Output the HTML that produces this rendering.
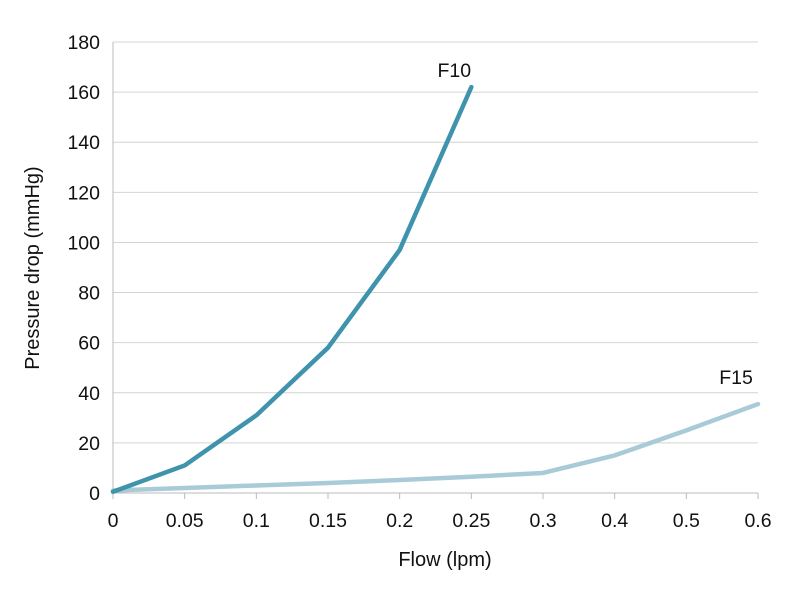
<!DOCTYPE html>
<html><head><meta charset="utf-8"><style>
body{margin:0;background:#fff}
svg{display:block;font-family:"Liberation Sans",sans-serif}
</style></head><body>
<svg id="c" width="800" height="600"></svg>
<script>
const categories=["0","0.05","0.1","0.15","0.2","0.25","0.3","0.4","0.5","0.6"];
const yTicks=[0,20,40,60,80,100,120,140,160,180];
const f10=[0.5,11,31,58,97,162];
const f15=[1,2,3,4,5.2,6.5,8,15,25,35.5];
const svg=document.getElementById('c');
const NS="http://www.w3.org/2000/svg";
const L=113,R=758,T=42,B=493;
const x=i=>L+i*(R-L)/(categories.length-1);
const y=v=>B-v*(B-T)/180;
function mk(t,a,p){const e=document.createElementNS(NS,t);for(const k in a)e.setAttribute(k,a[k]);(p||svg).appendChild(e);return e;}
yTicks.forEach(v=>{
  const g=mk('line',{x1:L,x2:R,y1:y(v),y2:y(v),stroke:v===0?'#bbb':'#d4d4d4','stroke-width':1});
  
  
  const t=mk('text',{x:100,y:y(v)+7,'text-anchor':'end','font-size':19.5,fill:'#111'});
  t.textContent=v;
  
  
});
const ax=mk('line',{x1:L,x2:L,y1:T,y2:B,stroke:'#bbb'});


categories.forEach((c,i)=>{
  const tk=mk('line',{x1:x(i),x2:x(i),y1:B,y2:B+6,stroke:'#bbb'});
  
  
  const t=mk('text',{x:x(i),y:B+34,'text-anchor':'middle','font-size':19.5,fill:'#111'});
  t.textContent=c;
  
  
});
function series(vals,color,name){
  const p=mk('polyline',{points:vals.map((v,i)=>x(i)+','+y(v)).join(' '),fill:'none',stroke:color,'stroke-width':4.5,'stroke-linejoin':'round','stroke-linecap':'round'});
  
  
}
series(f15,'#a9cbd8','series-f15');
series(f10,'#3f93ad','series-f10');
const l1=mk('text',{x:x(f10.length-1)-17,y:y(f10[f10.length-1])-10,'text-anchor':'middle','font-size':19.5,fill:'#111'});
l1.textContent='F10';


const l2=mk('text',{x:R-22,y:y(f15[f15.length-1])-20,'text-anchor':'middle','font-size':19.5,fill:'#111'});
l2.textContent='F15';


const xt=mk('text',{x:445,y:566,'text-anchor':'middle','font-size':20,fill:'#111'});
xt.textContent='Flow (lpm)';


const yt=mk('text',{x:0,y:0,'text-anchor':'middle','font-size':20,fill:'#111',transform:'translate(39,268) rotate(-90)'});
yt.textContent='Pressure drop (mmHg)';


</script>
</body></html>
